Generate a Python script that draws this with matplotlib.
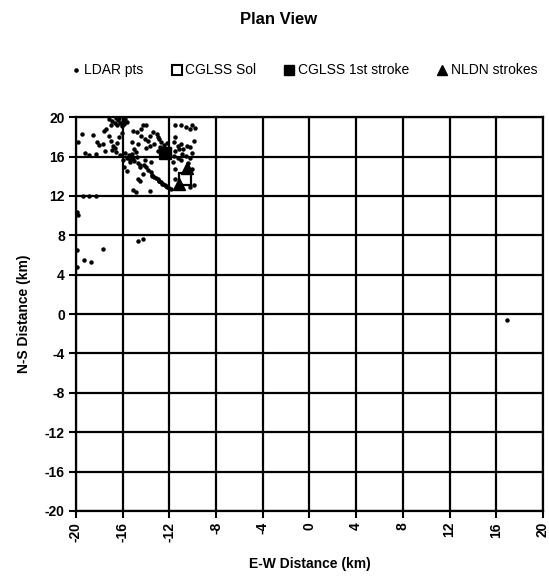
import matplotlib
matplotlib.use("Agg")
import matplotlib.pyplot as plt
from matplotlib.lines import Line2D

plt.rcParams['font.family'] = ['Liberation Sans', 'DejaVu Sans']

# LDAR source locations (km east, km north)
ldar_x = [
    -17.2, -16.9, -16.6, -16.4, -16.2, -16.0, -15.8, -16.5, -16.1, -15.9, -16.7, -17.0, -15.6, -16.3,
    -19.5, -18.5, -17.6, -17.4, -17.2, -18.2, -18.0, -17.7, -17.0, -16.8, -16.5, -16.7, -16.9, -19.2,
    -18.9, -18.3, -19.8, -16.3, -16.1, -17.5, -16.6,
    -15.8, -15.5, -15.3, -15.1, -15.6, -15.2, -14.9, -15.0, -14.7, -14.5, -15.4, -14.8, -16.0, -16.2,
    -15.9, -15.6, -14.7, -14.5, -15.1, -14.9, -14.3,
    -14.0, -13.6, -13.3, -13.0, -12.7, -12.4, -12.2, -12.0, -13.7, -14.5, -14.1, -13.6, -15.4,
    -13.8, -13.5, -12.9, -12.6, -14.2, -13.45, -13.15, -12.85, -12.55, -12.3, -11.9,
    -15.1, -14.8, -14.4, -14.1, -13.8, -13.7, -13.4, -13.1, -13.0, -12.9, -12.7, -13.3, -13.7, -14.0,
    -14.3, -14.0, -14.4, -14.7, -15.0, -15.2, -12.8, -12.6, -13.0, -12.5, -12.2,
    -11.5, -11.0, -10.6, -10.2, -10.1, -11.6, -11.3, -11.2, -11.5, -11.0, -10.8, -10.9, -10.6, -10.5,
    -10.2, -11.6, -11.3, -11.0, -10.4, -10.1, -11.5, -10.2, -9.9, -11.5, -10.2, -10.1, -11.5, -11.7,
    -9.8, -9.9,
    -19.9, -19.85, -17.7, -19.3, -18.7, -14.7, -14.3, -19.9, -19.9, -19.4, -18.9, -18.3, 16.9,
]
ldar_y = [
    19.8, 19.6, 19.9, 19.7, 19.4, 19.6, 19.8, 19.2, 19.1, 19.3, 19.4, 19.2, 19.5, 19.95,
    18.3, 18.2, 18.6, 18.8, 18.1, 17.5, 17.2, 17.3, 17.6, 17.1, 17.4, 16.9, 16.7, 16.4,
    16.2, 16.3, 17.5, 18.0, 18.4, 16.6, 16.5,
    16.4, 16.2, 15.9, 15.7, 15.8, 16.3, 16.5, 15.5, 15.3, 15.1, 15.4, 16.0, 15.6, 16.2,
    14.9, 14.5, 13.7, 13.5, 12.6, 12.4, 14.2,
    14.9, 14.4, 13.9, 13.7, 13.4, 13.1, 12.9, 12.8, 12.5, 14.9, 15.6, 15.4, 15.6,
    14.6, 14.1, 13.5, 13.2, 15.1, 14.0, 13.8, 13.55, 13.25, 13.0, 12.7,
    18.6, 18.5, 18.1, 17.8, 17.6, 18.1, 18.5, 18.3, 18.0, 17.8, 17.5, 17.3, 17.1, 16.9,
    19.2, 19.2, 18.8, 17.3, 16.8, 17.5, 17.0, 16.8, 16.6, 17.2, 17.4,
    19.2, 19.2, 19.0, 18.8, 19.2, 17.5, 17.1, 16.8, 16.6, 17.3, 16.8, 16.3, 16.1, 17.1,
    17.0, 16.1, 15.8, 15.6, 15.3, 14.7, 14.7, 12.9, 13.1, 13.7, 15.9, 16.4, 18.0, 15.4,
    18.9, 17.6,
    10.4, 10.1, 6.6, 5.5, 5.3, 7.4, 7.6, 6.5, 4.8, 12.0, 12.0, 12.0, -0.6,
]

# CGLSS solution and first stroke, NLDN strokes
cglss_sol_x, cglss_sol_y = [-10.7], [13.7]
cglss_first_x, cglss_first_y = [-12.4], [16.4]
nldn_x = [-10.5, -11.2]
nldn_y = [14.8, 13.2]

ticks = list(range(-20, 21, 4))

fig = plt.figure(figsize=(5.49, 5.77), dpi=100)
ax = fig.add_axes([0.1384, 0.1144, 0.8506, 0.6826])

ax.plot(ldar_x, ldar_y, linestyle='none', marker='o', markersize=2.2,
        color='black', zorder=3, clip_on=False)
ax.plot(cglss_sol_x, cglss_sol_y, linestyle='none', marker='s', markersize=8,
        markerfacecolor='white', markeredgecolor='black', markeredgewidth=1.6, zorder=4)
ax.plot(cglss_first_x, cglss_first_y, linestyle='none', marker='s', markersize=8.5,
        color='black', zorder=4)
ax.plot(nldn_x, nldn_y, linestyle='none', marker='^', markersize=9,
        color='black', zorder=4)

ax.set_xlim(-20, 20)
ax.set_ylim(-20, 20)
ax.set_xticks(ticks)
ax.set_yticks(ticks)
ax.set_xticklabels([str(t) for t in ticks], rotation=90, fontsize=10, fontweight='bold')
ax.set_yticklabels([str(t) for t in ticks], fontsize=10, fontweight='bold')
ax.grid(True, color='black', linewidth=1.6)
ax.set_axisbelow(True)
for s in ax.spines.values():
    s.set_linewidth(1.6)
    s.set_color('black')
ax.tick_params(axis='both', direction='out', length=5, width=1.5, colors='black', pad=3)

ax.set_xlabel('E-W Distance (km)', fontsize=10, fontweight='bold', labelpad=11)
ax.set_ylabel('N-S Distance (km)', fontsize=10, fontweight='bold', labelpad=10)

fig.text(0.508, 0.966, 'Plan View', ha='center', va='center',
         fontsize=12, fontweight='bold')

handles = [
    Line2D([], [], linestyle='none', marker='o', markersize=2.3, color='black'),
    Line2D([], [], linestyle='none', marker='s', markersize=7,
           markerfacecolor='white', markeredgecolor='black', markeredgewidth=1.5),
    Line2D([], [], linestyle='none', marker='s', markersize=7, color='black'),
    Line2D([], [], linestyle='none', marker='^', markersize=7.5, color='black'),
]
labels = ['LDAR pts', 'CGLSS Sol', 'CGLSS 1st stroke', 'NLDN strokes']
fig.legend(handles, labels, loc='center', bbox_to_anchor=(0.553, 0.878), ncol=4,
           frameon=False, fontsize=10, handlelength=0.8, handletextpad=0.2,
           columnspacing=2.0)

fig.savefig('out.png', dpi=100)
